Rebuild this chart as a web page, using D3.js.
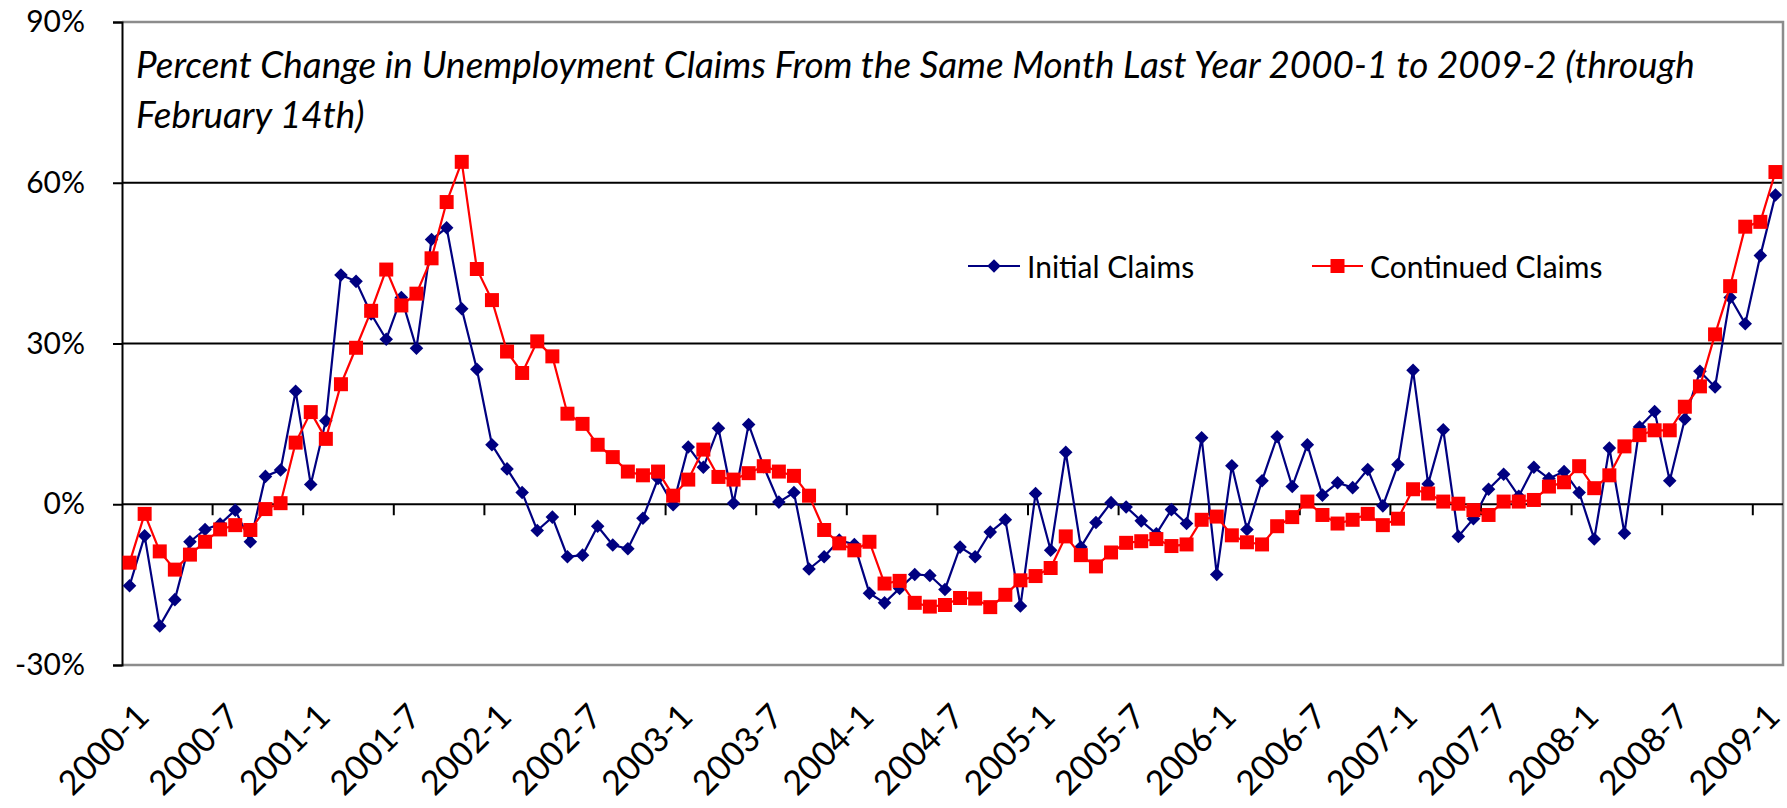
<!DOCTYPE html>
<html>
<head>
<meta charset="utf-8">
<script src="https://cdn.jsdelivr.net/npm/d3@7"></script>
<style>
  body { margin: 0; background: #fff; }
  text { font-family: Lato, "Open Sans", sans-serif; fill: #000; }
</style>
</head>
<body>
<svg id="chart" width="1787" height="808"></svg>
<script>
// months 2000-1 .. 2009-2
const months = [];
for (let yr = 2000; yr <= 2009; yr++) {
  for (let m = 1; m <= 12; m++) {
    if (yr === 2009 && m > 2) break;
    months.push(`${yr}-${m}`);
  }
}

const tickLabels = ["2000-1", "2000-7", "2001-1", "2001-7", "2002-1", "2002-7", "2003-1", "2003-7",
  "2004-1", "2004-7", "2005-1", "2005-7", "2006-1", "2006-7", "2007-1", "2007-7", "2008-1", "2008-7", "2009-1"];
const yTicks = [-30, 0, 30, 60, 90];

const initialClaims = [
  -15.2, -5.9, -22.7, -17.8, -7.0, -4.7, -3.7, -1.1, -7.0, 5.2, 6.4, 21.1,
  3.7, 15.6, 42.8, 41.6, 35.5, 30.8, 38.6, 29.1, 49.4, 51.6, 36.5, 25.2,
  11.1, 6.6, 2.2, -4.9, -2.4, -9.8, -9.5, -4.1, -7.6, -8.3, -2.6, 4.8,
  -0.1, 10.7, 6.9, 14.2, 0.2, 14.9, 7.0, 0.4, 2.2, -12.1, -9.8, -6.7,
  -7.5, -16.6, -18.4, -15.7, -13.1, -13.3, -15.9, -8.0, -9.8, -5.2, -2.9, -19.0,
  2.0, -8.6, 9.7, -8.0, -3.4, 0.3, -0.5, -3.1, -5.5, -1.0, -3.6, 12.4,
  -13.1, 7.2, -4.7, 4.4, 12.6, 3.3, 11.1, 1.7, 4.0, 3.1, 6.5, -0.3,
  7.4, 25.0, 3.8, 13.9, -6.0, -2.7, 2.8, 5.6, 1.5, 6.9, 4.8, 6.1,
  2.2, -6.5, 10.5, -5.4, 14.4, 17.3, 4.4, 15.9, 24.8, 21.9, 38.6, 33.7,
  46.4, 57.7
];

const continuedClaims = [
  -10.9, -1.8, -8.8, -12.2, -9.4, -7.0, -4.7, -3.9, -4.8, -0.9, 0.2, 11.5,
  17.2, 12.2, 22.4, 29.2, 36.1, 43.8, 37.1, 39.3, 45.9, 56.4, 63.9, 43.9,
  38.1, 28.5, 24.5, 30.4, 27.6, 16.9, 15.0, 11.1, 8.8, 6.1, 5.4, 6.1,
  1.6, 4.6, 10.2, 5.1, 4.6, 5.8, 7.1, 6.1, 5.3, 1.6, -4.8, -7.3,
  -8.6, -7.0, -14.8, -14.3, -18.4, -19.1, -18.8, -17.5, -17.6, -19.2, -16.9, -14.2,
  -13.4, -11.9, -6.0, -9.5, -11.6, -9.0, -7.2, -6.9, -6.5, -7.8, -7.5, -2.9,
  -2.3, -5.8, -7.1, -7.5, -4.1, -2.4, 0.5, -2.0, -3.6, -2.9, -1.8, -3.9,
  -2.7, 2.8, 2.0, 0.5, 0.1, -1.1, -2.0, 0.5, 0.5, 0.8, 3.3, 4.1,
  7.1, 3.0, 5.4, 10.8, 12.9, 13.8, 13.8, 18.2, 22.0, 31.7, 40.7, 51.8,
  52.7, 62.0
];

const titleLines = [
  "Percent Change in Unemployment Claims From the Same Month Last Year 2000-1 to 2009-2 (through",
  "February 14th)"
];

const plotLeft = 122, plotRight = 1783, plotTop = 22, plotBottom = 665;
const fontSize = 30;

const svg = d3.select("#chart");

const x = d3.scaleBand().domain(months).range([plotLeft, plotRight]).padding(0);
const y = d3.scaleLinear().domain([-30, 90]).range([plotBottom, plotTop]);
const cx = (m) => x(m) + x.bandwidth() / 2;

// gridlines at 30 and 60
svg.append("g")
  .selectAll("line")
  .data([30, 60])
  .join("line")
  .attr("x1", plotLeft).attr("x2", plotRight)
  .attr("y1", (d) => y(d)).attr("y2", (d) => y(d))
  .attr("stroke", "#000").attr("stroke-width", 2);

// plot border (gray)
svg.append("path")
  .attr("d", `M${plotLeft},${y(90)}H${plotRight}V${y(-30)}H${plotLeft}`)
  .attr("fill", "none")
  .attr("stroke", "#8c8c8c")
  .attr("stroke-width", 2.5);

// y axis
const yAxis = svg.append("g")
  .attr("transform", `translate(${plotLeft},0)`)
  .call(d3.axisLeft(y).tickValues(yTicks).tickFormat((d) => d + "%").tickSize(9).tickPadding(28));
yAxis.select(".domain").attr("stroke", "#000").attr("stroke-width", 2);
yAxis.selectAll(".tick line").attr("stroke", "#000").attr("stroke-width", 2);
yAxis.selectAll(".tick text")
  .style("font-size", fontSize + "px")
  .attr("fill", "#000");

// category axis at 0%
svg.append("line")
  .attr("x1", plotLeft).attr("x2", plotRight)
  .attr("y1", y(0)).attr("y2", y(0))
  .attr("stroke", "#000").attr("stroke-width", 2);

const tickIdx = d3.range(6, months.length, 6);
svg.append("g")
  .selectAll("line")
  .data(tickIdx)
  .join("line")
  .attr("x1", (i) => x(months[i])).attr("x2", (i) => x(months[i]))
  .attr("y1", y(0)).attr("y2", y(0) + 11)
  .attr("stroke", "#000").attr("stroke-width", 2);

// x labels rotated
svg.append("g")
  .selectAll("text")
  .data(tickLabels)
  .join("text")
  .attr("transform", (d) => `translate(${cx(d) + 12},${plotBottom + 44}) rotate(-45)`)
  .attr("text-anchor", "end")
  .attr("dominant-baseline", "central")
  .style("font-size", "34px")
  .text((d) => d);

// title
const title = svg.append("g");
const t1 = title.append("text")
  .attr("x", 136).attr("y", 78)
  .style("font-style", "italic")
  .style("font-size", fontSize + "px")
  .text(titleLines[0]);
const natural = t1.node().getComputedTextLength();
const titleSize = fontSize * 1559 / natural;
t1.style("font-size", titleSize + "px");
title.append("text")
  .attr("x", 136).attr("y", 128)
  .style("font-style", "italic")
  .style("font-size", titleSize + "px")
  .text(titleLines[1]);

// series
const series = [
  { name: "Initial Claims", values: initialClaims, color: "#000080", shape: "diamond" },
  { name: "Continued Claims", values: continuedClaims, color: "#ff0000", shape: "square" }
];

const line = d3.line()
  .x((d, i) => cx(months[i]))
  .y((d) => y(d));

const diamond = d3.symbol(d3.symbolSquare, 92);
const square = d3.symbol(d3.symbolSquare, 196);

series.forEach((s) => {
  const g = svg.append("g");
  g.append("path")
    .attr("d", line(s.values))
    .attr("fill", "none")
    .attr("stroke", s.color)
    .attr("stroke-width", 2.2);
  g.selectAll("path.mark")
    .data(s.values)
    .join("path")
    .attr("class", "mark")
    .attr("d", s.shape === "diamond" ? diamond : square)
    .attr("transform", (d, i) =>
      `translate(${cx(months[i])},${y(d)})` + (s.shape === "diamond" ? " rotate(45)" : ""))
    .attr("fill", s.color);
});

// legend
const legendY = 266;
const legendItems = [
  { s: series[0], x1: 968, x2: 1020, tx: 1027 },
  { s: series[1], x1: 1312, x2: 1363, tx: 1370 }
];
legendItems.forEach((d) => {
  const g = svg.append("g");
  g.append("line")
    .attr("x1", d.x1).attr("x2", d.x2)
    .attr("y1", legendY).attr("y2", legendY)
    .attr("stroke", d.s.color).attr("stroke-width", 2.2);
  g.append("path")
    .attr("d", d.s.shape === "diamond" ? diamond : square)
    .attr("transform", `translate(${(d.x1 + d.x2) / 2},${legendY})` + (d.s.shape === "diamond" ? " rotate(45)" : ""))
    .attr("fill", d.s.color);
  g.append("text")
    .attr("x", d.tx).attr("y", legendY)
    .attr("dominant-baseline", "central")
    .style("font-size", fontSize + "px")
    .text(d.s.name);
});
</script>
</body>
</html>
